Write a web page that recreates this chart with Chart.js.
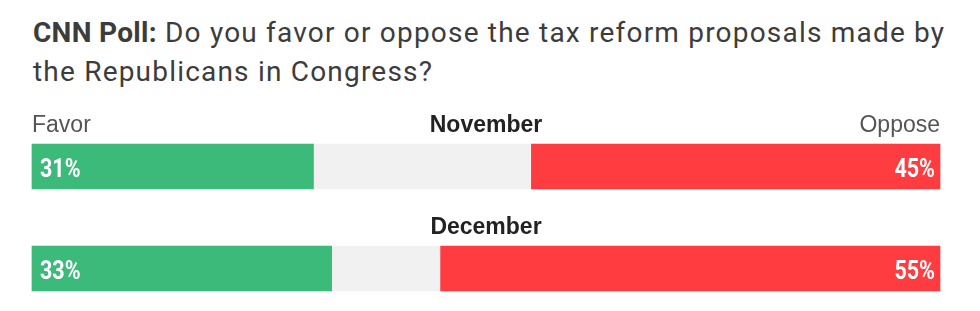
<!DOCTYPE html>
<html>
<head>
<meta charset="utf-8">
<script src="https://cdn.jsdelivr.net/npm/chart.js@4.4.1/dist/chart.umd.min.js"></script>
<style>
html,body{margin:0;padding:0;background:#fff;width:980px;height:311px;overflow:hidden}
#titulo{position:absolute;left:33px;top:13px;font-family:Roboto,sans-serif;font-size:28px;line-height:39px;color:#3c3c3c;white-space:nowrap;letter-spacing:1.2px}
#titulo span.l{display:block}
#titulo b{font-weight:700;letter-spacing:0.3px}
canvas{position:absolute;left:0;top:0}
</style>
</head>
<body>
<div id="titulo">
<span class="l"><b>CNN Poll:</b> Do you favor or oppose the tax reform proposals made by</span>
<span class="l">the Republicans in Congress?</span>
</div>
<canvas id="grafico" width="980" height="311"></canvas>
<script>
let meses=['November','December']
let favor=[31,33]
let oppose=[45,55]
let legendas=['Favor','Oppose']

let verde='#3bba7a'
let vermelho='#ff3d41'
let cinza='#f1f1f1'

let rotulos={
id:'rotulos',
afterDatasetsDraw(chart){
let ctx=chart.ctx
let area=chart.chartArea
let metaFavor=chart.getDatasetMeta(1)
let metaOppose=chart.getDatasetMeta(2)
let meio=(area.left+area.right)/2

ctx.save()

metaFavor.data.forEach((bar,i)=>{

let topo=bar.y-bar.height/2

ctx.fillStyle='#222'
ctx.font='bold 23px "Liberation Sans",Arial,sans-serif'
ctx.textAlign='center'
ctx.textBaseline='alphabetic'
ctx.fillText(meses[i],meio,topo-12)

if(i===0){
ctx.fillStyle='#555'
ctx.font='23px "Liberation Sans",Arial,sans-serif'
ctx.textAlign='left'
ctx.fillText(legendas[0],area.left,topo-12)
ctx.textAlign='right'
ctx.fillText(legendas[1],area.right,topo-12)
}

// percentuais, fonte condensada na mao
ctx.fillStyle='#fff'
ctx.font='bold 25px Roboto,sans-serif'
ctx.textBaseline='alphabetic'

ctx.save()
ctx.translate(bar.base+8,bar.y+10)
ctx.scale(0.86,1)
ctx.textAlign='left'
ctx.fillText(favor[i]+'%',0,0)
ctx.restore()

let barO=metaOppose.data[i]
ctx.save()
ctx.translate(barO.x-5,barO.y+10)
ctx.scale(0.86,1)
ctx.textAlign='right'
ctx.fillText(oppose[i]+'%',0,0)
ctx.restore()

})

ctx.restore()
}
}

new Chart(document.getElementById('grafico'),{
type:'bar',
data:{
labels:meses,
datasets:[{
label:'fundo',
data:meses.map(()=>100),
backgroundColor:cinza,
order:3
},{
label:'Favor',
data:favor,
backgroundColor:verde,
order:1
},{
label:'Oppose',
data:oppose.map(v=>[100-v,100]),
backgroundColor:vermelho,
order:2
}]
},
options:{
indexAxis:'y',
responsive:false,
devicePixelRatio:1,
animation:false,
events:[],
datasets:{
bar:{
grouped:false,
barThickness:45,
borderWidth:0,
clip:false
}
},
layout:{
padding:{left:32,right:40,top:166.5,bottom:42.5}
},
plugins:{
legend:{display:false},
tooltip:{enabled:false},
title:{display:false}
},
scales:{
x:{display:false,min:0,max:100},
y:{display:false,offset:false}
}
},
plugins:[rotulos]
})
</script>
</body>
</html>
